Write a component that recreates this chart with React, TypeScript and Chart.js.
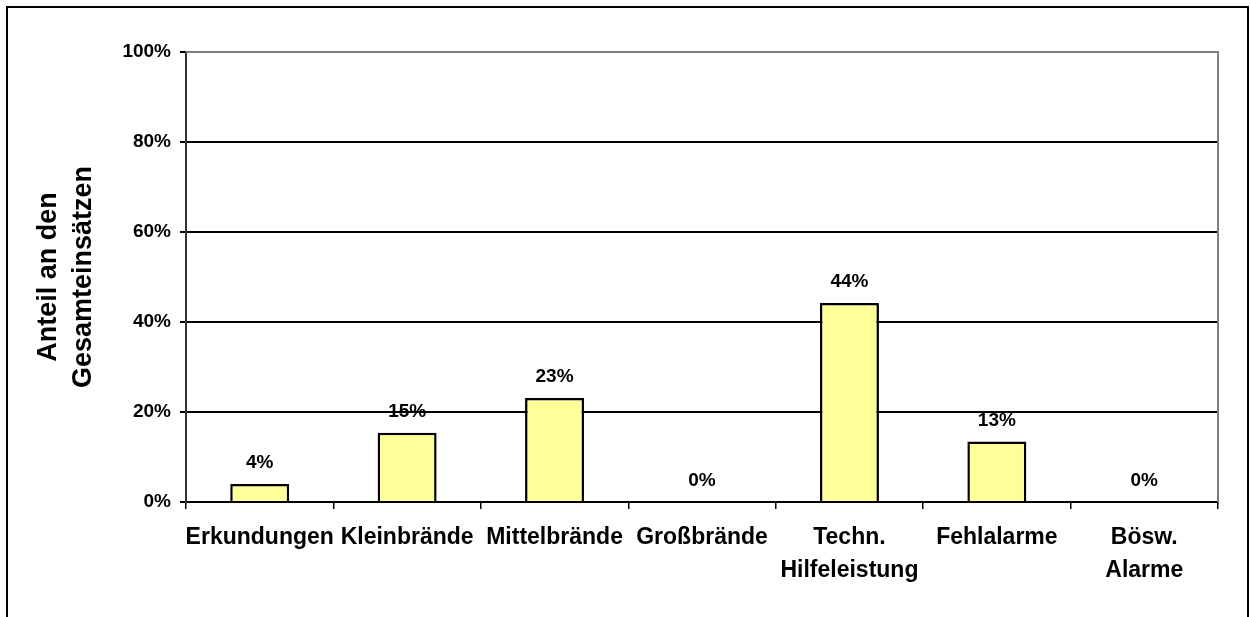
import React, { useEffect, useRef } from "react";
import { Chart, registerables } from "chart.js";

Chart.register(...registerables);

const categories: (string | string[])[] = [
  "Erkundungen",
  "Kleinbrände",
  "Mittelbrände",
  "Großbrände",
  ["Techn.", "Hilfeleistung"],
  "Fehlalarme",
  ["Bösw.", "Alarme"],
];
const values = [4.0, 15.4, 23.1, 0, 44.2, 13.45, 0];
const yTitleLines = ["Anteil an den", "Gesamteinsätzen"];
const yMin = 0;
const yMax = 100;
const yStep = 20;

const FONT = "'Liberation Sans', Arial, Helvetica, sans-serif";

const decor = {
  id: "decor",
  afterDraw(chart: any) {
    const ctx = chart.ctx as CanvasRenderingContext2D;
    const a = chart.chartArea;
    ctx.save();
    // outer frame
    ctx.strokeStyle = "#000";
    ctx.lineWidth = 2;
    ctx.strokeRect(7, 7, 1241, 700);
    // plot top/right border
    ctx.strokeStyle = "#808080";
    ctx.lineWidth = 2;
    ctx.beginPath();
    ctx.moveTo(a.left, a.top);
    ctx.lineTo(a.right, a.top);
    ctx.lineTo(a.right, a.bottom);
    ctx.stroke();
    // data labels
    const meta = chart.getDatasetMeta(0);
    ctx.fillStyle = "#000";
    ctx.font = `bold 19px ${FONT}`;
    ctx.textAlign = "center";
    ctx.textBaseline = "middle";
    meta.data.forEach((bar: any, i: number) => {
      ctx.fillText(Math.round(values[i]) + "%", bar.x, bar.y - 21);
    });
    // y axis title
    ctx.font = `bold 27px ${FONT}`;
    const cy = (a.top + a.bottom) / 2;
    const xs = [49, 84];
    yTitleLines.forEach((t, i) => {
      ctx.save();
      ctx.translate(xs[i], cy);
      ctx.rotate(-Math.PI / 2);
      ctx.fillText(t, 0, 0);
      ctx.restore();
    });
    ctx.restore();
  },
};

export default function App() {
  const ref = useRef<HTMLCanvasElement | null>(null);
  useEffect(() => {
    if (!ref.current) return;
    const chart = new Chart(ref.current, {
      type: "bar",
      data: {
        labels: categories,
        datasets: [
          {
            data: values,
            backgroundColor: "#FFFF99",
            borderColor: "#000",
            borderWidth: 2.5,
            barPercentage: 0.4,
            categoryPercentage: 1,
          },
        ],
      },
      options: {
        responsive: false,
        animation: false,
        devicePixelRatio: 1,
        layout: { padding: { top: 52, right: 32, left: 0, bottom: 0 } },
        plugins: {
          legend: { display: false },
          tooltip: { enabled: false },
          title: { display: false },
        },
        scales: {
          x: {
            offset: true,
            grid: {
              display: true,
              offset: true,
              drawOnChartArea: false,
              drawTicks: true,
              tickLength: 7,
              color: "#000",
              lineWidth: 1.5,
            },
            border: { display: true, color: "#000", width: 2 },
            ticks: {
              autoSkip: false,
              maxRotation: 0,
              minRotation: 0,
              padding: 12,
              color: "#000",
              font: { family: FONT, size: 23, weight: "bold", lineHeight: 1.43 },
            },
            afterFit: (s: any) => {
              s.height = 115;
            },
          },
          y: {
            min: yMin,
            max: yMax,
            ticks: {
              stepSize: yStep,
              padding: 9,
              color: "#000",
              font: { family: FONT, size: 19, weight: "bold" },
              callback: (v: any) => v + "%",
            },
            grid: {
              color: "#000",
              lineWidth: 2,
              tickLength: 6,
              drawTicks: true,
            },
            border: { display: true, color: "#333", width: 2 },
            afterFit: (s: any) => {
              s.width = 186;
            },
          },
        },
      },
      plugins: [decor],
    });
    return () => chart.destroy();
  }, []);
  return (
    <div style={{ position: "absolute", left: 0, top: 0, width: 1250, height: 617, background: "#fff" }}>
      <canvas ref={ref} width={1250} height={617} style={{ display: "block" }} />
    </div>
  );
}
